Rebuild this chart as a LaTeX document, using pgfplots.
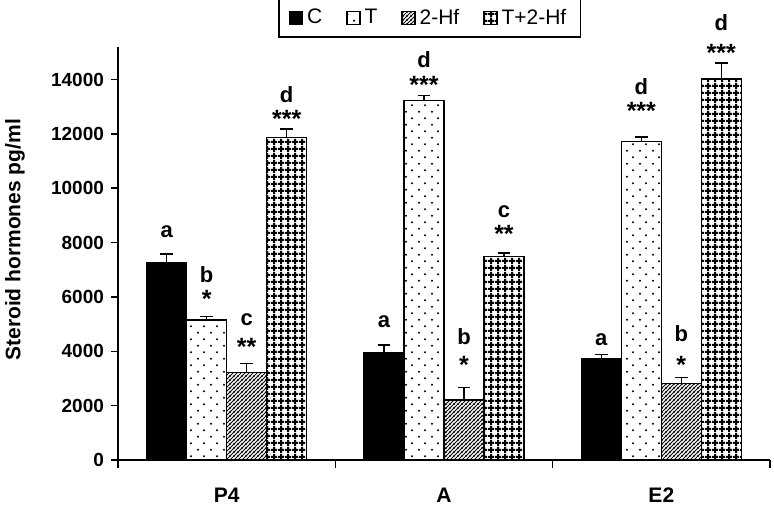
\documentclass[border=0pt]{standalone}
\usepackage{fontspec}
\setmainfont{Liberation Sans}
\usepackage{pgfplots}
\pgfplotsset{compat=1.18}
\usepackage{pgfplotstable}
\usetikzlibrary{patterns,patterns.meta}

\tikzdeclarepattern{name=mydots, type=uncolored, bottom left={(0pt,0pt)}, top right={(6.5pt,6.7pt)}, tile size={(6.5pt,6.7pt)},
  code={\fill (1.6pt,1.7pt) circle (0.6pt); \fill (4.85pt,5.05pt) circle (0.6pt);}}
\tikzdeclarepattern{name=myhatch, type=uncolored, bottom left={(0pt,0pt)}, top right={(2.1pt,2.1pt)}, tile size={(2.1pt,2.1pt)},
  code={\draw[line width=0.6pt] (-2.1pt,-2.1pt)--(4.2pt,4.2pt) (0pt,-2.1pt)--(4.2pt,2.1pt) (-2.1pt,0pt)--(2.1pt,4.2pt);}}
\tikzdeclarepattern{name=mygrid, type=uncolored, bottom left={(0pt,0pt)}, top right={(3.3pt,3.3pt)}, tile size={(3.3pt,3.3pt)},
  code={\draw[line width=1.0pt] (0pt,1.65pt)--(3.3pt,1.65pt) (1.65pt,0pt)--(1.65pt,3.3pt);}}

\pgfplotstableread{
x C Ce T Te H He TH THe
0 7250 330 5160 120 3220 340 11860 330
1 3950 290 13230 180 2210 450 7490 120
2 3720 170 11720 160 2820 210 14020 590
}\data

\pgfplotsset{sqlegend/.style={legend image code/.code={\draw[##1, line width=0.6pt] (0pt,-3.25pt) rectangle (6.5pt,3.25pt);}}}

\begin{document}
\begin{tikzpicture}
\useasboundingbox (-59pt,-23pt) rectangle (328pt,230pt);
\begin{axis}[
  at={(0,0)}, anchor=south west,
  scale only axis, width=326pt, height=206.5pt,
  ybar, bar width=0.184,
  xmin=-0.5, xmax=2.5, ymin=0, ymax=15200,
  axis lines=left, axis line style={-, line width=1pt},
  clip=false,
  ytick={0,2000,...,14000},
  scaled y ticks=false,
  tick align=outside, major tick length=3.5pt,
  ytick style={line width=0.8pt, black},
  /pgf/number format/assume math mode=true,
  /pgf/number format/1000 sep={},
  yticklabel style={font=\bfseries\fontsize{9.5}{10}\selectfont},
  xtick={0,1,2}, xticklabels={P4,A,E2},
  xtick style={draw=none},
  xticklabel style={font=\bfseries\fontsize{10.5}{12}\selectfont, yshift=-7pt},
  extra x ticks={-0.5,0.5,1.5,2.5}, extra x tick labels={},
  extra x tick style={xtick style={draw=black, line width=0.8pt}, major tick length=4pt},
  ylabel={Steroid hormones pg/ml},
  every axis y label/.style={at={(axis description cs:-0.158,0.533)}, rotate=90, anchor=center,
     font=\bfseries\fontsize{10.5}{12}\selectfont},
  legend style={at={(0.478,1)}, anchor=south, yshift=4.5pt, draw=black, line width=0.75pt,
     font=\fontsize{10.5}{12}\selectfont, legend columns=4, inner xsep=5pt, inner ysep=3pt,
     /tikz/every even column/.append style={column sep=10pt}},
  error bars/y dir=plus, error bars/y explicit,
  error bars/error mark=-,
  error bars/error bar style={line width=0.75pt, black},
  error bars/error mark options={rotate=90, line width=0.75pt, mark size=3.2pt, black},
]
\addplot[bar shift=-0.276, fill=black, draw=black, line width=0.75pt, sqlegend] table[x=x,y=C,y error=Ce]{\data};
\addplot[bar shift=-0.092, pattern=mydots, pattern color=black, draw=black, line width=0.75pt, sqlegend] table[x=x,y=T,y error=Te]{\data};
\addplot[bar shift=0.092, pattern=myhatch, pattern color=black, draw=black, line width=0.75pt, sqlegend] table[x=x,y=H,y error=He]{\data};
\addplot[bar shift=0.276, pattern=mygrid, pattern color=black, draw=black, line width=0.75pt, sqlegend] table[x=x,y=TH,y error=THe]{\data};
\legend{C,T,2-Hf,T+2-Hf}

\begin{scope}[every node/.style={font=\bfseries\fontsize{11}{12}\selectfont, anchor=center, inner sep=0pt},
   st/.style={font=\bfseries\fontsize{12.5}{13}\selectfont}]
% P4
\node at (axis cs:-0.276,8410) {a};
\node at (axis cs:-0.092,6810) {b};
\node[st] at (axis cs:-0.092,5930) {*};
\node at (axis cs:0.092,5160) {c};
\node[st] at (axis cs:0.092,4160) {**};
\node at (axis cs:0.276,13450) {d};
\node[st] at (axis cs:0.276,12560) {***};
% A
\node at (axis cs:0.724,5090) {a};
\node at (axis cs:0.908,14730) {d};
\node[st] at (axis cs:0.908,13810) {***};
\node at (axis cs:1.092,4530) {b};
\node[st] at (axis cs:1.092,3500) {*};
\node at (axis cs:1.276,9150) {c};
\node[st] at (axis cs:1.276,8320) {**};
% E2
\node at (axis cs:1.724,4420) {a};
\node at (axis cs:1.908,13750) {d};
\node[st] at (axis cs:1.908,12830) {***};
\node at (axis cs:2.092,4650) {b};
\node[st] at (axis cs:2.092,3500) {*};
\node at (axis cs:2.276,16100) {d};
\node[st] at (axis cs:2.276,15000) {***};
\end{scope}
\end{axis}
\end{tikzpicture}
\end{document}
